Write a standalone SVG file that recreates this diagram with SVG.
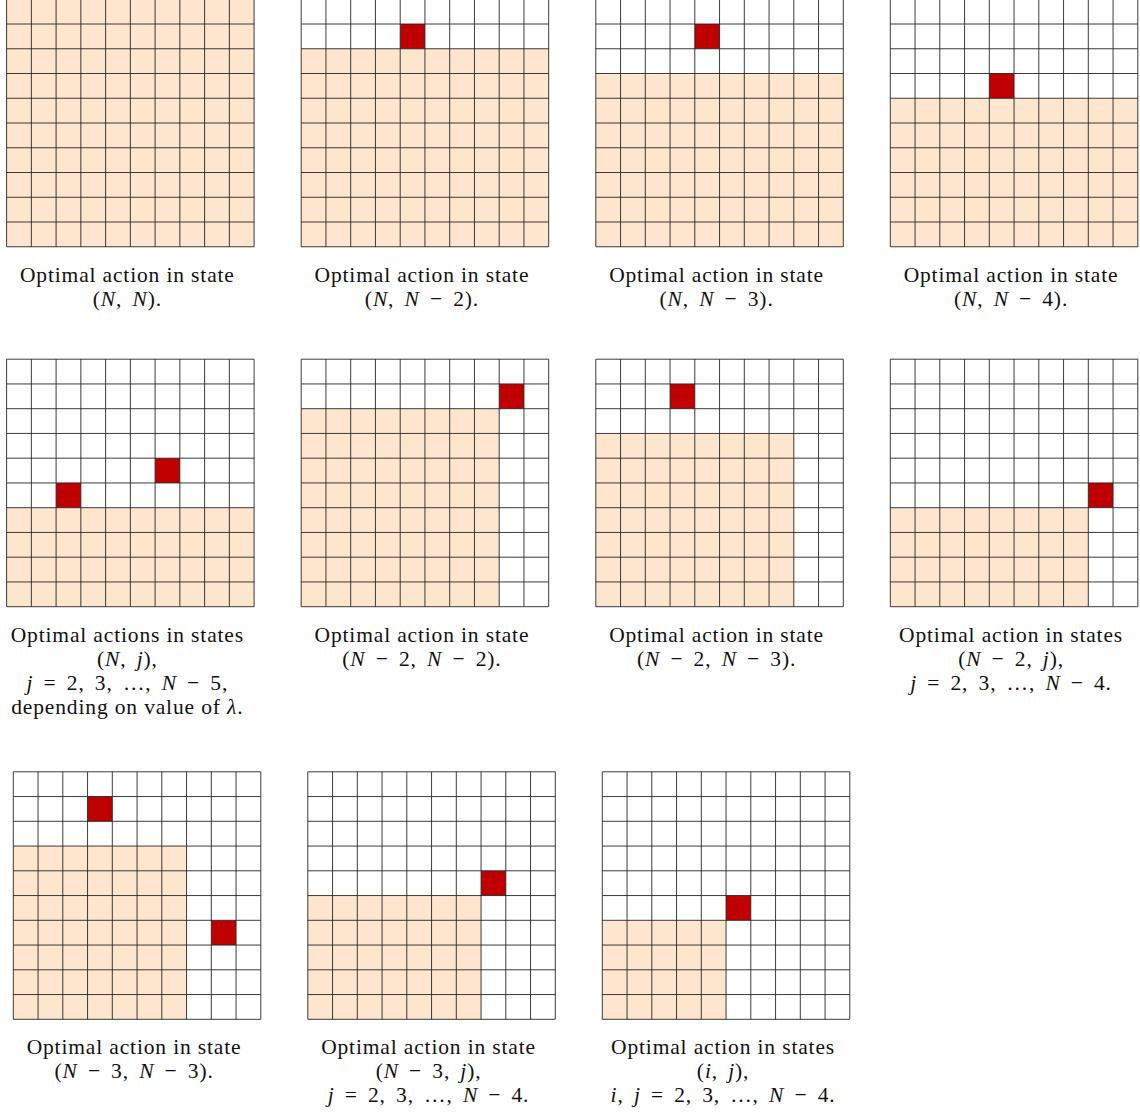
<svg xmlns="http://www.w3.org/2000/svg" xmlns:xlink="http://www.w3.org/1999/xlink" width="1140" height="1120" viewBox="0 0 1140 1120">
<style>
.bg{fill:#ffffff}
.pe{fill:#FDE5CE}
.rd{fill:#C00000}
.gl{fill:none;stroke:#262626;stroke-width:0.9}
text{font-family:"Liberation Serif","Times New Roman",serif;font-size:21.5px;letter-spacing:0.85px;fill:#111;text-anchor:middle}
.m{word-spacing:4px}
.i{font-style:italic}
</style>
<defs>
<path id="grid" class="gl" d="M0 0H247.5M0 24.75H247.5M0 49.5H247.5M0 74.25H247.5M0 99H247.5M0 123.75H247.5M0 148.5H247.5M0 173.25H247.5M0 198H247.5M0 222.75H247.5M0 247.5H247.5M0 0V247.5M24.75 0V247.5M49.5 0V247.5M74.25 0V247.5M99 0V247.5M123.75 0V247.5M148.5 0V247.5M173.25 0V247.5M198 0V247.5M222.75 0V247.5M247.5 0V247.5"/>
</defs>
<rect width="1140" height="1120" fill="#ffffff"/>

<g id="panel-1" transform="translate(6.6,-0.75)">
<rect class="pe" x="0" y="0" width="247.5" height="247.5"/>
<use href="#grid"/>
<text x="120.75" y="282.5">Optimal action in state</text>
<text class="m" x="120.75" y="306.5">(<tspan class="i">N</tspan>, <tspan class="i">N</tspan>).</text>
</g>

<g id="panel-2" transform="translate(301.2,-0.75)">
<rect class="bg" x="0" y="0" width="247.5" height="247.5"/>
<rect class="pe" x="0" y="49.5" width="247.5" height="198"/>
<rect class="rd" x="99" y="24.75" width="24.75" height="24.75"/>
<use href="#grid"/>
<text x="120.75" y="282.5">Optimal action in state</text>
<text class="m" x="120.75" y="306.5">(<tspan class="i">N</tspan>, <tspan class="i">N</tspan> − 2).</text>
</g>

<g id="panel-3" transform="translate(595.8,-0.75)">
<rect class="bg" x="0" y="0" width="247.5" height="247.5"/>
<rect class="pe" x="0" y="74.25" width="247.5" height="173.25"/>
<rect class="rd" x="99" y="24.75" width="24.75" height="24.75"/>
<use href="#grid"/>
<text x="120.75" y="282.5">Optimal action in state</text>
<text class="m" x="120.75" y="306.5">(<tspan class="i">N</tspan>, <tspan class="i">N</tspan> − 3).</text>
</g>

<g id="panel-4" transform="translate(890.3,-0.75)">
<rect class="bg" x="0" y="0" width="247.5" height="247.5"/>
<rect class="pe" x="0" y="99" width="247.5" height="148.5"/>
<rect class="rd" x="99" y="74.25" width="24.75" height="24.75"/>
<use href="#grid"/>
<text x="120.75" y="282.5">Optimal action in state</text>
<text class="m" x="120.75" y="306.5">(<tspan class="i">N</tspan>, <tspan class="i">N</tspan> − 4).</text>
</g>

<g id="panel-5" transform="translate(6.6,359.2)">
<rect class="bg" x="0" y="0" width="247.5" height="247.5"/>
<rect class="pe" x="0" y="148.5" width="247.5" height="99"/>
<rect class="rd" x="49.5" y="123.75" width="24.75" height="24.75"/>
<rect class="rd" x="148.5" y="99" width="24.75" height="24.75"/>
<use href="#grid"/>
<text x="120.75" y="282.5">Optimal actions in states</text>
<text class="m" x="120.75" y="306.5">(<tspan class="i">N</tspan>, <tspan class="i">j</tspan>),</text>
<text class="m" x="120.75" y="330.5"><tspan class="i">j</tspan> = 2, 3, …, <tspan class="i">N</tspan> − 5,</text>
<text x="120.75" y="354.5">depending on value of <tspan class="i">λ</tspan>.</text>
</g>

<g id="panel-6" transform="translate(301.2,359.2)">
<rect class="bg" x="0" y="0" width="247.5" height="247.5"/>
<rect class="pe" x="0" y="49.5" width="198" height="198"/>
<rect class="rd" x="198" y="24.75" width="24.75" height="24.75"/>
<use href="#grid"/>
<text x="120.75" y="282.5">Optimal action in state</text>
<text class="m" x="120.75" y="306.5">(<tspan class="i">N</tspan> − 2, <tspan class="i">N</tspan> − 2).</text>
</g>

<g id="panel-7" transform="translate(595.8,359.2)">
<rect class="bg" x="0" y="0" width="247.5" height="247.5"/>
<rect class="pe" x="0" y="74.25" width="198" height="173.25"/>
<rect class="rd" x="74.25" y="24.75" width="24.75" height="24.75"/>
<use href="#grid"/>
<text x="120.75" y="282.5">Optimal action in state</text>
<text class="m" x="120.75" y="306.5">(<tspan class="i">N</tspan> − 2, <tspan class="i">N</tspan> − 3).</text>
</g>

<g id="panel-8" transform="translate(890.3,359.2)">
<rect class="bg" x="0" y="0" width="247.5" height="247.5"/>
<rect class="pe" x="0" y="148.5" width="198" height="99"/>
<rect class="rd" x="198" y="123.75" width="24.75" height="24.75"/>
<use href="#grid"/>
<text x="120.75" y="282.5">Optimal action in states</text>
<text class="m" x="120.75" y="306.5">(<tspan class="i">N</tspan> − 2, <tspan class="i">j</tspan>),</text>
<text class="m" x="120.75" y="330.5"><tspan class="i">j</tspan> = 2, 3, …, <tspan class="i">N</tspan> − 4.</text>
</g>

<g id="panel-9" transform="translate(13.3,771.8)">
<rect class="bg" x="0" y="0" width="247.5" height="247.5"/>
<rect class="pe" x="0" y="74.25" width="173.25" height="173.25"/>
<rect class="rd" x="74.25" y="24.75" width="24.75" height="24.75"/>
<rect class="rd" x="198" y="148.5" width="24.75" height="24.75"/>
<use href="#grid"/>
<text x="120.75" y="282.5">Optimal action in state</text>
<text class="m" x="120.75" y="306.5">(<tspan class="i">N</tspan> − 3, <tspan class="i">N</tspan> − 3).</text>
</g>

<g id="panel-10" transform="translate(307.8,771.8)">
<rect class="bg" x="0" y="0" width="247.5" height="247.5"/>
<rect class="pe" x="0" y="123.75" width="173.25" height="123.75"/>
<rect class="rd" x="173.25" y="99" width="24.75" height="24.75"/>
<use href="#grid"/>
<text x="120.75" y="282.5">Optimal action in state</text>
<text class="m" x="120.75" y="306.5">(<tspan class="i">N</tspan> − 3, <tspan class="i">j</tspan>),</text>
<text class="m" x="120.75" y="330.5"><tspan class="i">j</tspan> = 2, 3, …, <tspan class="i">N</tspan> − 4.</text>
</g>

<g id="panel-11" transform="translate(602.3,771.8)">
<rect class="bg" x="0" y="0" width="247.5" height="247.5"/>
<rect class="pe" x="0" y="148.5" width="123.75" height="99"/>
<rect class="rd" x="123.75" y="123.75" width="24.75" height="24.75"/>
<use href="#grid"/>
<text x="120.75" y="282.5">Optimal action in states</text>
<text class="m" x="120.75" y="306.5">(<tspan class="i">i</tspan>, <tspan class="i">j</tspan>),</text>
<text class="m" x="120.75" y="330.5"><tspan class="i">i</tspan>, <tspan class="i">j</tspan> = 2, 3, …, <tspan class="i">N</tspan> − 4.</text>
</g>

<g id="connectors"></g>
</svg>
